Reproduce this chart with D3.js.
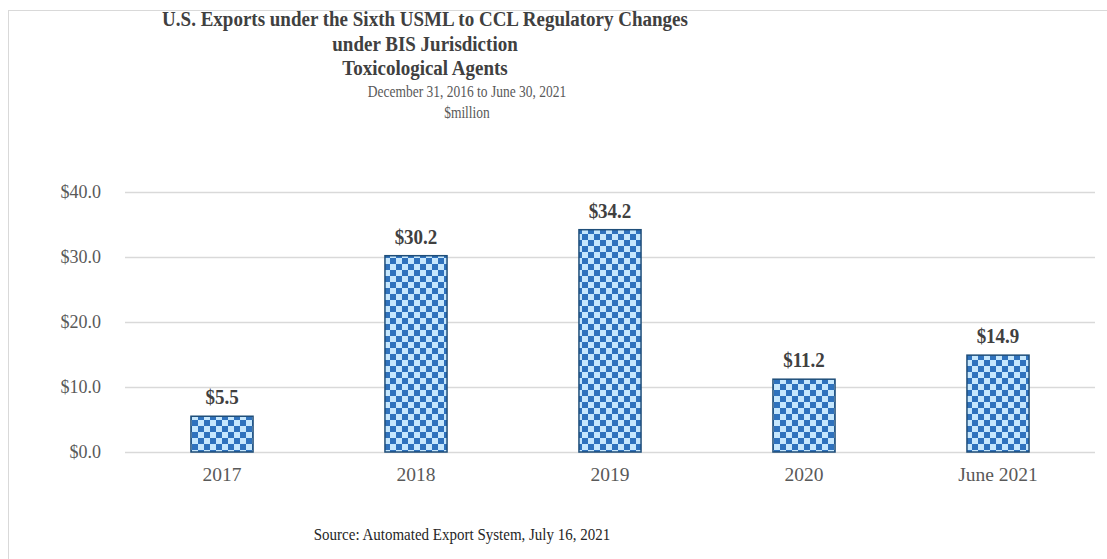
<!DOCTYPE html>
<html>
<head>
<meta charset="utf-8">
<script src="https://cdn.jsdelivr.net/npm/d3@7"></script>
<style>
  html, body { margin: 0; padding: 0; background: #fff; }
  svg { display: block; }
  text { font-family: "Liberation Serif", "Times New Roman", serif; }
</style>
</head>
<body>
<svg id="chart" width="1107" height="559"></svg>
<script>
const categories = ["2017", "2018", "2019", "2020", "June 2021"];
const values = [5.5, 30.2, 34.2, 11.2, 14.9];
const yTicks = [0, 10, 20, 30, 40];
const titleLines = ["U.S. Exports under the Sixth USML to CCL Regulatory Changes", "under BIS Jurisdiction", "Toxicological Agents"];
const subtitleLines = ["December 31, 2016 to June 30, 2021", "$million"];
const sourceText = "Source: Automated Export System, July 16, 2021";

const svg = d3.select("#chart");

// outer chart border
svg.append("rect").attr("x", 8.5).attr("y", 10.5).attr("width", 1120).attr("height", 600)
  .attr("fill", "#fff").attr("stroke", "#d9d9d9").attr("stroke-width", 1);

// pattern
const defs = svg.append("defs");
const pat = defs.append("pattern").attr("id", "checker").attr("patternUnits", "userSpaceOnUse")
  .attr("width", 12).attr("height", 12);
pat.append("rect").attr("width", 12).attr("height", 12).attr("fill", "#c6e7fd");
pat.append("rect").attr("x", 0).attr("y", 0).attr("width", 6).attr("height", 6).attr("fill", "#2f72bd");
pat.append("rect").attr("x", 6).attr("y", 6).attr("width", 6).attr("height", 6).attr("fill", "#2f72bd");

const plot = { left: 125, right: 1095, top: 192, bottom: 452 };

const x = d3.scaleBand().domain(categories).range([plot.left, plot.right]).paddingInner(0.68).paddingOuter(0.34);
const y = d3.scaleLinear().domain([0, 40]).range([plot.bottom, plot.top]);

// gridlines
svg.append("g").selectAll("line").data(yTicks).join("line")
  .attr("x1", plot.left).attr("x2", plot.right)
  .attr("y1", d => Math.round(y(d)) + 0.5).attr("y2", d => Math.round(y(d)) + 0.5)
  .attr("stroke", "#d9d9d9").attr("stroke-width", 1.3);

// y axis labels
const yAxis = d3.axisLeft(y).tickValues(yTicks).tickSize(0).tickPadding(0)
  .tickFormat(d => "$" + d3.format(".1f")(d));
const gy = svg.append("g").attr("transform", `translate(${plot.left - 24},0)`).call(yAxis);
gy.select(".domain").remove();
gy.selectAll("text").attr("fill", "#595959").style("font-size", "18px")
  .style("font-family", "'Liberation Serif', serif");

// x axis labels
const xAxis = d3.axisBottom(x).tickSize(0).tickPadding(0);
const gx = svg.append("g").attr("transform", `translate(0,${plot.bottom + 15})`).call(xAxis);
gx.select(".domain").remove();
gx.selectAll("text").attr("fill", "#595959").style("font-size", "19.5px")
  .style("font-family", "'Liberation Serif', serif");

// bars
svg.append("g").selectAll("rect").data(values).join("rect")
  .attr("x", (d, i) => x(categories[i]))
  .attr("y", d => y(d))
  .attr("width", x.bandwidth())
  .attr("height", d => y(0) - y(d))
  .attr("fill", "url(#checker)")
  .attr("stroke", "#1f4e79").attr("stroke-width", 1.5);

// value labels
svg.append("g").selectAll("text").data(values).join("text")
  .attr("transform", (d, i) => `translate(${x(categories[i]) + x.bandwidth() / 2},${y(d) - 12}) scale(1,1.1)`)
  .attr("text-anchor", "middle")
  .attr("fill", "#404040")
  .style("font-size", "19px").style("font-weight", "bold")
  .text(d => "$" + d3.format(".1f")(d));

// title
svg.append("g").selectAll("text").data(titleLines).join("text")
  .attr("transform", (d, i) => `translate(425,${26 + i * 24.5}) scale(1,1.15)`)
  .attr("text-anchor", "middle").attr("fill", "#404040")
  .style("font-size", "19px").style("font-weight", "bold")
  .text(d => d);

svg.append("g").selectAll("text").data(subtitleLines).join("text")
  .attr("transform", (d, i) => `translate(467,${97 + i * 21}) scale(1,1.22)`)
  .attr("text-anchor", "middle").attr("fill", "#595959")
  .style("font-size", "13.5px")
  .text(d => d);

// source
svg.append("text").attr("transform", "translate(462,540) scale(1,1.15)").attr("text-anchor", "middle")
  .attr("fill", "#262626").style("font-size", "15px").text(sourceText);
</script>
</body>
</html>
